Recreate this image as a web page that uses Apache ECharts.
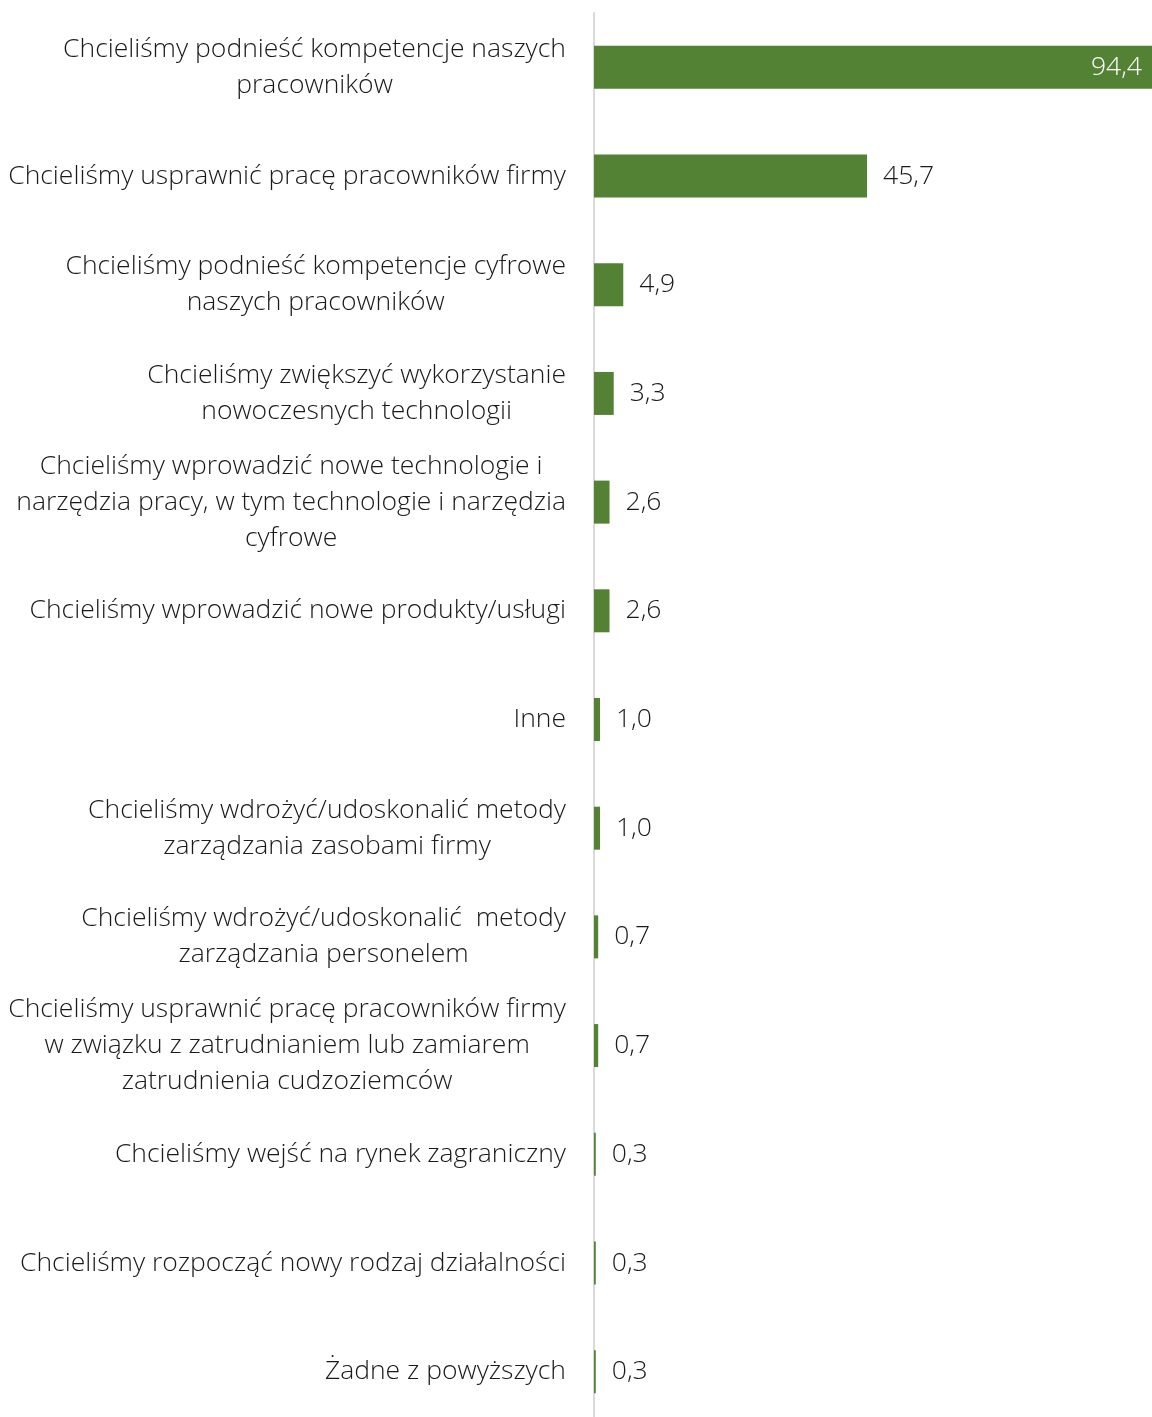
<!DOCTYPE html>
<html>
<head>
<meta charset="utf-8">
<script src="https://cdn.jsdelivr.net/npm/echarts@6/dist/echarts.min.js"></script>
<style>
html, body { margin: 0; padding: 0; background: #fff; }
#chart { width: 1152px; height: 1417px; }
</style>
</head>
<body>
<div id="chart"></div>
<script>
// kategorie (z ręcznym łamaniem wierszy jak w oryginale)
var categories = [
	"Chcieliśmy podnieść kompetencje naszych\npracowników",
	"Chcieliśmy usprawnić pracę pracowników firmy",
	"Chcieliśmy podnieść kompetencje cyfrowe\nnaszych pracowników",
	"Chcieliśmy zwiększyć wykorzystanie\nnowoczesnych technologii",
	"Chcieliśmy wprowadzić nowe technologie i\nnarzędzia pracy, w tym technologie i narzędzia\ncyfrowe",
	"Chcieliśmy wprowadzić nowe produkty/usługi",
	"Inne",
	"Chcieliśmy wdrożyć/udoskonalić metody\nzarządzania zasobami firmy",
	"Chcieliśmy wdrożyć/udoskonalić  metody\nzarządzania personelem",
	"Chcieliśmy usprawnić pracę pracowników firmy\nw związku z zatrudnianiem lub zamiarem\nzatrudnienia cudzoziemców",
	"Chcieliśmy wejść na rynek zagraniczny",
	"Chcieliśmy rozpocząć nowy rodzaj działalności",
	"Żadne z powyższych"
];
var values = [94.4, 45.7, 4.9, 3.3, 2.6, 2.6, 1.0, 1.0, 0.7, 0.7, 0.3, 0.3, 0.3];

var fontFamily = "'Open Sans', sans-serif";
var fontSize = 26.5;
var textColor = "#1a1a1a";

var seriesData = values.map(function(v, i) {
	var item = { value: v };
	if (i === 0) {
		// pierwsza etykieta wewnątrz słupka
		item.label = { position: "insideRight", color: "#fff", distance: 16 };
	}
	return item;
});

var myChart = echarts.init(document.getElementById("chart"));
var option = {
	animation: false,
	grid: { left: 594, width: 564, top: 13, height: 1413, outerBoundsMode: "none", containLabel: false },
	xAxis: {
		type: "value",
		min: 0,
		max: 94.4,
		show: false
	},
	yAxis: {
		type: "category",
		inverse: true,
		data: categories,
		axisLine: { show: true, lineStyle: { color: "#d9d9d9", width: 2 } },
		axisTick: { show: false },
		axisLabel: {
			margin: 28,
			align: "right",
			fontFamily: fontFamily,
			fontWeight: 300,
			fontSize: fontSize,
			lineHeight: 36,
			color: textColor,
			formatter: function(val) {
				return val.split("\n").map(function(l) { return "{c|" + l + "}"; }).join("\n");
			},
			rich: {
				c: { align: "center", fontFamily: fontFamily, fontWeight: 300, fontSize: fontSize, lineHeight: 36, color: textColor }
			}
		}
	},
	series: [{
		type: "bar",
		data: seriesData,
		barWidth: 43,
		itemStyle: { color: "#548235" },
		label: {
			show: true,
			position: "right",
			distance: 16,
			fontFamily: fontFamily,
			fontWeight: 300,
			fontSize: fontSize,
			color: textColor,
			formatter: function(p) { return p.value.toFixed(1).replace(".", ","); }
		}
	}]
};
myChart.setOption(option);
</script>
</body>
</html>
